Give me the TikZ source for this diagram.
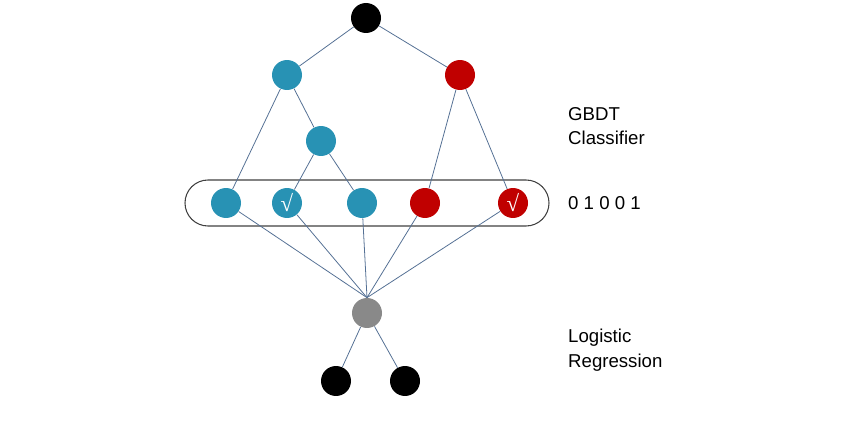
\documentclass[tikz,border=0pt]{standalone}
\usepackage{fontspec}
\setmainfont{Liberation Sans}
\newfontfamily\tickfont{Liberation Serif}
\usepackage{xcolor}
\definecolor{gbdtblue}{RGB}{40,146,180}
\definecolor{gbdtred}{RGB}{192,0,0}
\definecolor{lrgray}{RGB}{137,137,137}
\definecolor{edgecol}{RGB}{84,112,148}
\usetikzlibrary{calc}
\tikzset{
	dot/.style={circle,minimum size=0.6cm,inner sep=0pt,draw=none},
	lab/.style={anchor=west,align=left,font=\fontsize{10.6}{14}\selectfont},
	edge/.style={draw=edgecol,line width=0.45pt}
}
\def\tick{\textcolor{white}{\tickfont\fontsize{13}{13}\selectfont √}}

\begin{document}
\begin{tikzpicture}[x=0.02cm,y=-0.02cm]
	\useasboundingbox (0,0) rectangle (862,422);
	% leaf box
	\draw[black!75,line width=0.6pt,rounded corners=0.46cm] (185,180) rectangle (549,226);
	% tree nodes
	\node[dot,fill=black] (root) at (366,18) {};
	\node[dot,fill=gbdtblue] (b1) at (287,75) {};
	\node[dot,fill=gbdtred] (r1) at (460,75) {};
	\node[dot,fill=gbdtblue] (b2) at (321,141) {};
	\node[dot,fill=gbdtblue] (l1) at (226,203) {};
	\node[dot,fill=gbdtblue] (l2) at (287,203) {\tick};
	\node[dot,fill=gbdtblue] (l3) at (362,203) {};
	\node[dot,fill=gbdtred] (l4) at (425,203) {};
	\node[dot,fill=gbdtred] (l5) at (513,203) {\tick};
	\node[dot,fill=lrgray] (lr) at (367,313) {};
	\node[dot,fill=black] (o1) at (336,381) {};
	\node[dot,fill=black] (o2) at (405,381) {};
	% edges
	\path[edge] (root)--(b1) (root)--(r1);
	\path[edge] (b1)--(l1) (b1)--(b2);
	\path[edge] (b2)--(l2) (b2)--(l3);
	\path[edge] (r1)--(l4) (r1)--(l5);
	\foreach \l in {l1,l2,l3,l4,l5}
		\path[edge] (\l)--(lr.north);
	\path[edge] (lr)--(o1) (lr)--(o2);
	% labels
	\node[lab] (gbdt) at (562,126) {GBDT\\Classifier};
	\node[lab] (code) at (562,203) {0 1 0 0 1};
	\node[lab] (logit) at (562,350) {Logistic\\Regression};
\end{tikzpicture}
\end{document}
